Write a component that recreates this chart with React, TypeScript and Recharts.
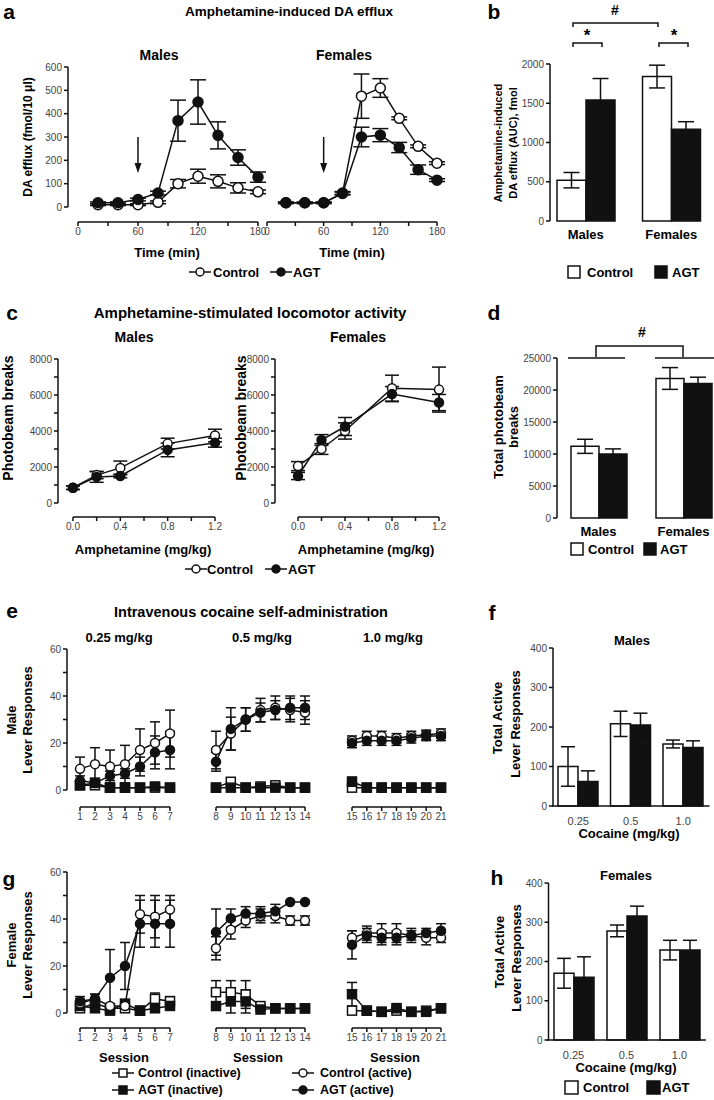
import React from "react";
import { Bar, BarChart, ErrorBar, Line, LineChart, ReferenceDot, ReferenceLine, XAxis, YAxis } from "recharts";

// ---------- data ----------
const daTime = [20, 40, 60, 80, 100, 120, 140, 160, 180];
const daMaleCtrl = [10, 10, 10, 20, 100, 132, 110, 82, 65];
const daMaleCtrlErr = [4, 4, 4, 6, 18, 30, 28, 22, 8];
const daMaleAgt = [18, 18, 32, 60, 370, 450, 307, 212, 128];
const daMaleAgtErr = [4, 4, 6, 8, 88, 95, 58, 33, 22];
const daFemCtrl = [18, 18, 18, 60, 475, 510, 380, 260, 188];
const daFemCtrlErr = [3, 3, 3, 6, 95, 40, 6, 6, 6];
const daFemAgt = [18, 18, 18, 58, 300, 308, 255, 160, 115];
const daFemAgtErr = [3, 3, 3, 6, 42, 28, 22, 20, 6];

const sexes = ["Males", "Females"];
const aucCtrl = [520, 1840];
const aucCtrlErr = [98, 145];
const aucAgt = [1540, 1170];
const aucAgtErr = [275, 95];

const ampDose = [0, 0.2, 0.4, 0.8, 1.2];
const locoMaleCtrl = [850, 1550, 1950, 3300, 3750];
const locoMaleCtrlErr = [100, 200, 380, 300, 350];
const locoMaleAgt = [850, 1450, 1500, 2950, 3350];
const locoMaleAgtErr = [100, 300, 100, 380, 250];
const locoFemCtrl = [2050, 3000, 4000, 6380, 6300];
const locoFemCtrlErr = [250, 300, 450, 720, 1250];
const locoFemAgt = [1500, 3500, 4250, 6050, 5580];
const locoFemAgtErr = [200, 300, 500, 420, 450];

const beamCtrl = [11200, 21800];
const beamCtrlErr = [1100, 1700];
const beamAgt = [10000, 21000];
const beamAgtErr = [800, 1000];

const sessions = [1, 2, 3, 4, 5, 6, 7, 8, 9, 10, 11, 12, 13, 14, 15, 16, 17, 18, 19, 20, 21];
const mCtrlAct = [9, 11, 10, 11, 17, 20, 24, 17, 24, 30, 34, 35, 34, 33, 21, 23, 23, 22, 23, 23.5, 24];
const mCtrlActErr = [5, 7, 7, 8, 9, 9, 10, 8, 7, 5, 5, 5, 5, 5, 2, 2, 2, 2, 2, 2, 2];
const mAgtAct = [4, 3, 6, 7, 10, 16, 17, 12, 26, 30, 33, 34, 35, 35, 20, 21, 21, 21, 22, 23, 23];
const mAgtActErr = [2, 2, 2, 2, 4, 7, 8, 4, 9, 5, 4, 4, 5, 5, 2, 2, 2, 2, 2, 2, 2];
const mCtrlInact = [2, 2, 1, 1, 1, 1, 1, 1, 3.5, 1, 1.5, 2, 1, 1, 1, 1, 1, 1, 1, 1, 1];
const mCtrlInactErr = [1, 1, 0, 0, 0, 0, 0, 0, 1.5, 0, 1, 1, 0, 0, 0, 0, 0, 0, 0, 0, 0];
const mAgtInact = [2, 3, 1, 1, 1, 1.5, 1, 1, 1, 1, 1, 1, 1, 1, 3.5, 1, 1, 1, 1, 1, 1];
const mAgtInactErr = [1, 1, 0, 0, 0, 0, 0, 0, 0, 0, 0, 0, 0, 0, 2, 0, 0, 0, 0, 0, 0];

const fCtrlAct = [4, 6, 3, 3, 42, 41, 44, 27, 35, 39, 41, 41, 39, 39, 32, 34, 34, 34, 33, 32, 32];
const fCtrlActErr = [2, 2, 1, 1, 8, 9, 6, 5, 4, 3, 3, 3, 2, 2, 3, 3, 4, 4, 3, 3, 2];
const fAgtAct = [5, 6, 15, 20, 38, 38, 38, 34, 40, 42, 42, 43, 47, 47, 29, 33, 32, 32, 33, 34, 35];
const fAgtActErr = [2, 2, 12, 10, 10, 10, 10, 10, 4, 3, 3, 3, 0, 0, 6, 3, 3, 3, 2, 2, 3];
const fCtrlInact = [2, 4, 2, 2, 1, 6, 5, 8, 8, 7, 2, 1, 1, 1, 1, 1, 0.5, 1, 0.5, 1, 2];
const fCtrlInactErr = [1, 1, 1, 1, 1, 2.5, 2, 5, 5, 6, 1, 0, 0, 0, 0, 0, 0, 0, 0, 0, 1];
const fAgtInact = [3, 2, 1, 4, 1, 2, 3, 2, 4, 4, 0.5, 1, 1, 1, 8, 1, 0.5, 2, 0.5, 0.5, 2];
const fAgtInactErr = [1, 1, 1, 1, 1, 1, 1, 1, 5, 5, 0, 0, 0, 0, 5, 0, 0, 2, 0, 0, 1.5];

const cocDose = ["0.25", "0.5", "1.0"];
const totMaleCtrl = [100, 208, 157];
const totMaleCtrlErr = [50, 32, 10];
const totMaleAgt = [62, 205, 148];
const totMaleAgtErr = [27, 30, 17];
const totFemCtrl = [170, 278, 229];
const totFemCtrlErr = [38, 15, 25];
const totFemAgt = [160, 316, 229];
const totFemAgtErr = [52, 25, 25];

// ---------- layout helpers ----------
const FONT = '"Liberation Sans", Arial, Helvetica, sans-serif';
const INK = "#111";
const GREY = "#444";
const PAD = { l: 70, r: 14, t: 14, b: 50 };
const YW = 50;
const XH = 30;

// detached axes: the axis lines are moved with css, the tick labels by the tick renderers
const SHIFTS: Record<string, [number, number]> = {
  ay: [-10, 0], ax: [0, 15],
  by: [7, 0],
  cmy: [-15, 0], cfy: [-23, 0], cx: [0, 14],
  dy: [1, 0],
  ey: [-13, 0], ex: [0, 17], gx: [0, 15],
  fy: [1, 0], hy: [1.5, 0],
};
const css = Object.entries(SHIFTS)
  .map(([k, [dx, dy]]) => `.s-${k}{transform:translate(${dx}px,${dy}px)}`)
  .join("\n");

function frame(x0: number, y0: number, x1: number, y1: number, showY = true) {
  return {
    style: { position: "absolute" as const, left: x0 - PAD.l, top: y0 - PAD.t },
    width: x1 - x0 + PAD.l + PAD.r,
    height: y1 - y0 + PAD.t + PAD.b,
    margin: { top: PAD.t, right: PAD.r, bottom: PAD.b - XH, left: PAD.l - (showY ? YW : 0) },
  };
}

const axisStroke = { stroke: INK, strokeWidth: 1.5 };
const every = (step: number) => (v: number) => (Math.abs(v / step - Math.round(v / step)) < 1e-6 ? String(v) : "");

const xTick = (fmt: ((v: any) => string) | undefined, dy: number, style: any) => (p: any) => (
  <text key={`xt-${p.index}`} x={p.x} y={p.y + dy} dy="0.71em" textAnchor="middle" {...style}>
    {fmt ? fmt(p.payload.value) : p.payload.value}
  </text>
);
const yTick = (fmt: ((v: any) => string) | undefined, dx: number) => (p: any) => (
  <text key={`yt-${p.index}`} x={p.x + dx} y={p.y} dy="0.35em" textAnchor="end" fill={GREY} fontSize={10}>
    {fmt ? fmt(p.payload.value) : p.payload.value}
  </text>
);
const smallGrey = { fill: GREY, fontSize: 10 };

type Kind = "open" | "fill" | "openSq" | "fillSq";
function dotFor(kind: Kind, r: number): any {
  if (kind === "open" || kind === "fill")
    return { r, fill: kind === "open" ? "#fff" : INK, stroke: INK, strokeWidth: 1.5 };
  const fill = kind === "openSq" ? "#fff" : INK;
  return (p: any) => (
    <rect key={`sq-${p.index}`} x={p.cx - r} y={p.cy - r} width={2 * r} height={2 * r} fill={fill} stroke={INK} strokeWidth={1.5} />
  );
}

type S = { key: string; kind: Kind };

function XYPanel(props: {
  box: [number, number, number, number];
  data: any[];
  xDomain: [number, number];
  xTicks: number[];
  xFmt?: (v: number) => string;
  yDomain: [number, number];
  yTicks: number[];
  yFmt?: (v: number) => string;
  showY: boolean;
  yCls?: string;
  xCls: string;
  series: S[];
  r: number;
  cap: number;
  arrow?: boolean;
}) {
  const [x0, y0, x1, y1] = props.box;
  const f = frame(x0, y0, x1, y1, props.showY);
  const xs = SHIFTS[props.xCls];
  const ys = props.yCls ? SHIFTS[props.yCls] : [0, 0];
  return (
    <div style={f.style}>
      <LineChart width={f.width} height={f.height} margin={f.margin} data={props.data}>
        <XAxis
          type="number"
          dataKey="x"
          domain={props.xDomain}
          ticks={props.xTicks}
          interval={0}
          height={XH}
          axisLine={axisStroke}
          tickLine={axisStroke}
          tickSize={4}
          tickMargin={2}
          tick={xTick(props.xFmt, xs[1], smallGrey)}
          className={`s-${props.xCls}`}
        />
        <YAxis
          hide={!props.showY}
          width={YW}
          domain={props.yDomain}
          ticks={props.yTicks}
          interval={0}
          axisLine={axisStroke}
          tickLine={axisStroke}
          tickSize={4}
          tickMargin={2}
          tick={yTick(props.yFmt, ys[0])}
          className={props.yCls ? `s-${props.yCls}` : undefined}
        />
        {props.arrow && (
          <ReferenceLine segment={[{ x: 60, y: 300 }, { x: 60, y: 170 }]} stroke={INK} strokeWidth={1.5} />
        )}
        {props.arrow && (
          <ReferenceDot
            x={60}
            y={146}
            r={0}
            shape={(p: any) => (
              <path d={`M${p.cx - 3.5},${p.cy - 10} L${p.cx + 3.5},${p.cy - 10} L${p.cx},${p.cy} Z`} fill={INK} />
            )}
          />
        )}
        {props.series.map((s) => (
          <Line
            key={s.key}
            dataKey={s.key}
            type="linear"
            stroke={INK}
            strokeWidth={1.5}
            dot={dotFor(s.kind, props.r)}
            activeDot={false}
            isAnimationActive={false}
          >
            <ErrorBar dataKey={`${s.key}E`} width={props.cap} stroke={INK} strokeWidth={1.5} direction="y" />
          </Line>
        ))}
      </LineChart>
    </div>
  );
}

function BarPanel(props: {
  box: [number, number, number, number];
  data: any[];
  yDomain: [number, number];
  yTicks: number[];
  yCls: string;
  barSize: number;
  cap: number;
  groupTick: any;
  xLine: boolean;
  tickMargin: number;
}) {
  const [x0, y0, x1, y1] = props.box;
  const f = frame(x0, y0, x1, y1, true);
  const ys = SHIFTS[props.yCls];
  return (
    <div style={f.style}>
      <BarChart width={f.width} height={f.height} margin={f.margin} data={props.data} barGap={0}>
        <XAxis
          dataKey="g"
          height={XH}
          axisLine={props.xLine ? axisStroke : false}
          tickLine={false}
          interval={0}
          tickMargin={props.tickMargin}
          tick={xTick(undefined, 0, props.groupTick)}
        />
        <YAxis
          width={YW}
          domain={props.yDomain}
          ticks={props.yTicks}
          interval={0}
          axisLine={axisStroke}
          tickLine={axisStroke}
          tickSize={4}
          tickMargin={2}
          tick={yTick(undefined, ys[0])}
          className={`s-${props.yCls}`}
        />
        <Bar dataKey="ctrl" fill="#fff" stroke={INK} strokeWidth={1.5} barSize={props.barSize} isAnimationActive={false}>
          <ErrorBar dataKey="ctrlE" width={props.cap} stroke={INK} strokeWidth={1.5} />
        </Bar>
        <Bar dataKey="agt" fill={INK} stroke={INK} strokeWidth={1.5} barSize={props.barSize} isAnimationActive={false}>
          <ErrorBar dataKey="agtE" width={props.cap} stroke={INK} strokeWidth={1.5} />
        </Bar>
      </BarChart>
    </div>
  );
}

function Txt({ x, y, text, size = 13, weight = 700, rot = false, start = false, color = "#000" }: any) {
  const tr = start ? "translate(0,-50%)" : "translate(-50%,-50%)";
  return (
    <div
      style={{
        position: "absolute",
        left: x,
        top: y,
        transform: tr + (rot ? " rotate(-90deg)" : ""),
        fontSize: size,
        fontWeight: weight,
        whiteSpace: "nowrap",
        lineHeight: 1,
        color,
      }}
    >
      {text}
    </div>
  );
}

function LineKey({ x, y, kind }: { x: number; y: number; kind: Kind }) {
  return (
    <svg style={{ position: "absolute", left: x - 11, top: y - 6 }} width={22} height={12}>
      <line x1={0} y1={6} x2={22} y2={6} stroke={INK} strokeWidth={1.5} />
      {kind === "open" || kind === "fill" ? (
        <circle cx={11} cy={6} r={4} fill={kind === "open" ? "#fff" : INK} stroke={INK} strokeWidth={1.5} />
      ) : (
        <rect x={7} y={2} width={8} height={8} fill={kind === "openSq" ? "#fff" : INK} stroke={INK} strokeWidth={1.5} />
      )}
    </svg>
  );
}

function BoxKey({ x, y, fill, size }: { x: number; y: number; fill: string; size: number }) {
  return (
    <svg style={{ position: "absolute", left: x - size / 2 - 1, top: y - size / 2 - 1 }} width={size + 2} height={size + 2}>
      <rect x={1} y={1} width={size} height={size} fill={fill} stroke={INK} strokeWidth={1.5} />
    </svg>
  );
}

// ---------- derived tables ----------
const daMale = daTime.map((x, i) => ({ x, ctrl: daMaleCtrl[i], ctrlE: daMaleCtrlErr[i], agt: daMaleAgt[i], agtE: daMaleAgtErr[i] }));
const daFem = daTime.map((x, i) => ({ x, ctrl: daFemCtrl[i], ctrlE: daFemCtrlErr[i], agt: daFemAgt[i], agtE: daFemAgtErr[i] }));
const aucRows = sexes.map((g, i) => ({ g, ctrl: aucCtrl[i], ctrlE: aucCtrlErr[i], agt: aucAgt[i], agtE: aucAgtErr[i] }));
const locoMale = ampDose.map((x, i) => ({ x, ctrl: locoMaleCtrl[i], ctrlE: locoMaleCtrlErr[i], agt: locoMaleAgt[i], agtE: locoMaleAgtErr[i] }));
const locoFem = ampDose.map((x, i) => ({ x, ctrl: locoFemCtrl[i], ctrlE: locoFemCtrlErr[i], agt: locoFemAgt[i], agtE: locoFemAgtErr[i] }));
const beamRows = sexes.map((g, i) => ({ g, ctrl: beamCtrl[i], ctrlE: beamCtrlErr[i], agt: beamAgt[i], agtE: beamAgtErr[i] }));
const maleSess = sessions.map((x, i) => ({
  x,
  cIn: mCtrlInact[i], cInE: mCtrlInactErr[i], aIn: mAgtInact[i], aInE: mAgtInactErr[i],
  cAct: mCtrlAct[i], cActE: mCtrlActErr[i], aAct: mAgtAct[i], aActE: mAgtActErr[i],
}));
const femSess = sessions.map((x, i) => ({
  x,
  cIn: fCtrlInact[i], cInE: fCtrlInactErr[i], aIn: fAgtInact[i], aInE: fAgtInactErr[i],
  cAct: fCtrlAct[i], cActE: fCtrlActErr[i], aAct: fAgtAct[i], aActE: fAgtActErr[i],
}));
const totMale = cocDose.map((g, i) => ({ g, ctrl: totMaleCtrl[i], ctrlE: totMaleCtrlErr[i], agt: totMaleAgt[i], agtE: totMaleAgtErr[i] }));
const totFem = cocDose.map((g, i) => ({ g, ctrl: totFemCtrl[i], ctrlE: totFemCtrlErr[i], agt: totFemAgt[i], agtE: totFemAgtErr[i] }));

const pairSeries: S[] = [
  { key: "ctrl", kind: "open" },
  { key: "agt", kind: "fill" },
];
const sessSeries: S[] = [
  { key: "cIn", kind: "openSq" },
  { key: "aIn", kind: "fillSq" },
  { key: "cAct", kind: "open" },
  { key: "aAct", kind: "fill" },
];
const blocks: { lo: number; hi: number; x0: number; x1: number }[] = [
  { lo: 1, hi: 7, x0: 80, x1: 170 },
  { lo: 8, hi: 14, x0: 216, x1: 305 },
  { lo: 15, hi: 21, x0: 352, x1: 441 },
];
const range = (a: number, b: number) => sessions.filter((s) => s >= a && s <= b);
const doseFmt = (v: number) => (Math.round(v * 10) % 4 === 0 ? v.toFixed(1) : "");

const boldTick = { fill: "#000", fontSize: 13, fontWeight: 700 };
const grayTick = { fill: GREY, fontSize: 11 };

export default function App() {
  return (
    <div
      style={{
        position: "absolute",
        left: 0,
        top: 0,
        width: 714,
        height: 1100,
        overflow: "hidden",
        background: "#fff",
        fontFamily: FONT,
        color: "#000",
      }}
    >
      <style>{css}</style>

      {/* ---- a ---- */}
      <Txt x={9} y={11} text="a" size={21} />
      <Txt x={289} y={12} text="Amphetamine-induced DA efflux" size={13.5} />
      <Txt x={159} y={55} text="Males" size={14} />
      <Txt x={344} y={55} text="Females" size={14} />
      <Txt x={28} y={137} text="DA efflux (fmol/10 μl)" size={12} rot />
      <XYPanel box={[78, 67, 258, 207]} data={daMale} xDomain={[0, 180]} xTicks={[0, 30, 60, 90, 120, 150, 180]}
        xFmt={every(60)} yDomain={[0, 600]} yTicks={[0, 100, 200, 300, 400, 500, 600]} showY yCls="ay" xCls="ax"
        series={pairSeries} r={5} cap={8} arrow />
      <XYPanel box={[267, 67, 437, 207]} data={daFem} xDomain={[0, 180]} xTicks={[0, 30, 60, 90, 120, 150, 180]}
        xFmt={every(60)} yDomain={[0, 600]} yTicks={[0, 100, 200, 300, 400, 500, 600]} showY={false} xCls="ax"
        series={pairSeries} r={5} cap={8} arrow />
      <Txt x={167} y={252} text="Time (min)" size={13} />
      <Txt x={352} y={252} text="Time (min)" size={13} />
      <LineKey x={200} y={272} kind="open" />
      <Txt x={213} y={272} text="Control" size={13} start />
      <LineKey x={281} y={272} kind="fill" />
      <Txt x={293} y={272} text="AGT" size={13} start />

      {/* ---- b ---- */}
      <Txt x={494} y={11} text="b" size={21} />
      <Txt x={615} y={10} text="#" size={14} />
      <Txt x={587} y={35} text="*" size={17} />
      <Txt x={674} y={35} text="*" size={17} />
      <svg style={{ position: "absolute", left: 0, top: 0 }} width={714} height={400}>
        <path d="M573,27 V23 H658 V27" fill="none" stroke={INK} strokeWidth={1.5} />
        <path d="M573,47 V43 H602 V47" fill="none" stroke={INK} strokeWidth={1.5} />
        <path d="M659,47 V43 H688 V47" fill="none" stroke={INK} strokeWidth={1.5} />
        <path d="M596,357 V346 H683 V357" fill="none" stroke={INK} strokeWidth={1.5} />
        <path d="M568,358 H625 M655,358 H714" fill="none" stroke={INK} strokeWidth={1.5} />
      </svg>
      <Txt x={498} y={143} text="Amphetamine-induced" size={11} rot />
      <Txt x={513} y={143} text="DA efflux (AUC), fmol" size={11} rot />
      <BarPanel box={[543, 64, 714, 221]} data={aucRows} yDomain={[0, 2000]} yTicks={[0, 500, 1000, 1500, 2000]}
        yCls="by" barSize={29} cap={8} groupTick={boldTick} xLine={false} tickMargin={3} />
      <BoxKey x={574} y={272} fill="#fff" size={12} />
      <Txt x={587} y={272} text="Control" size={13} start />
      <BoxKey x={661} y={272} fill={INK} size={12} />
      <Txt x={672} y={272} text="AGT" size={13} start />

      {/* ---- c ---- */}
      <Txt x={12} y={312} text="c" size={21} />
      <Txt x={250} y={312} text="Amphetamine-stimulated locomotor activity" size={15} />
      <Txt x={134} y={337} text="Males" size={14} />
      <Txt x={358} y={337} text="Females" size={14} />
      <Txt x={8} y={418} text="Photobeam breaks" size={14} rot />
      <Txt x={241} y={418} text="Photobeam breaks" size={14} rot />
      <XYPanel box={[73, 359, 215, 503]} data={locoMale} xDomain={[0, 1.2]} xTicks={[0, 0.2, 0.4, 0.6, 0.8, 1, 1.2]}
        xFmt={doseFmt} yDomain={[0, 8000]} yTicks={[0, 1000, 2000, 3000, 4000, 5000, 6000, 7000, 8000]}
        yFmt={every(2000)} showY yCls="cmy" xCls="cx" series={pairSeries} r={4.5} cap={7} />
      <XYPanel box={[298, 359, 439, 503]} data={locoFem} xDomain={[0, 1.2]} xTicks={[0, 0.2, 0.4, 0.6, 0.8, 1, 1.2]}
        xFmt={doseFmt} yDomain={[0, 8000]} yTicks={[0, 1000, 2000, 3000, 4000, 5000, 6000, 7000, 8000]}
        yFmt={every(2000)} showY yCls="cfy" xCls="cx" series={pairSeries} r={4.5} cap={7} />
      <Txt x={143} y={549} text="Amphetamine (mg/kg)" size={13} />
      <Txt x={366} y={549} text="Amphetamine (mg/kg)" size={13} />
      <LineKey x={196} y={569} kind="open" />
      <Txt x={207} y={569} text="Control" size={13} start />
      <LineKey x={276} y={569} kind="fill" />
      <Txt x={288} y={569} text="AGT" size={13} start />

      {/* ---- d ---- */}
      <Txt x={494} y={312} text="d" size={21} />
      <Txt x={642} y={332} text="#" size={14} />
      <Txt x={498} y={427} text="Total photobeam" size={13} rot />
      <Txt x={513} y={427} text="breaks" size={13} rot />
      <BarPanel box={[556, 358, 726, 518]} data={beamRows} yDomain={[0, 25000]}
        yTicks={[0, 5000, 10000, 15000, 20000, 25000]} yCls="dy" barSize={28} cap={8} groupTick={boldTick}
        xLine={false} tickMargin={3} />
      <BoxKey x={577} y={549} fill="#fff" size={12} />
      <Txt x={588} y={549} text="Control" size={13} start />
      <BoxKey x={650} y={549} fill={INK} size={12} />
      <Txt x={660} y={549} text="AGT" size={13} start />

      {/* ---- e ---- */}
      <Txt x={12} y={610} text="e" size={21} />
      <Txt x={251} y={612} text="Intravenous cocaine self-administration" size={14.5} />
      <Txt x={119} y={637} text="0.25 mg/kg" size={13} />
      <Txt x={262} y={637} text="0.5 mg/kg" size={13} />
      <Txt x={393} y={637} text="1.0 mg/kg" size={13} />
      <Txt x={11} y={720} text="Male" size={13} rot />
      <Txt x={27} y={720} text="Lever Responses" size={13} rot />
      {blocks.map((b, i) => (
        <XYPanel key={`e${i}`} box={[b.x0, 649, b.x1, 790]} data={maleSess.filter((d) => d.x >= b.lo && d.x <= b.hi)}
          xDomain={[b.lo, b.hi]} xTicks={range(b.lo, b.hi)} yDomain={[0, 60]} yTicks={[0, 10, 20, 30, 40, 50, 60]}
          yFmt={every(20)} showY={i === 0} yCls="ey" xCls="ex" series={sessSeries} r={4.5} cap={5} />
      ))}

      {/* ---- f ---- */}
      <Txt x={492} y={612} text="f" size={21} />
      <Txt x={632} y={640} text="Males" size={13} />
      <Txt x={497} y={718} text="Total Active" size={13} rot />
      <Txt x={515} y={724} text="Lever Responses" size={13} rot />
      <BarPanel box={[552, 648, 709.5, 806]} data={totMale} yDomain={[0, 400]} yTicks={[0, 100, 200, 300, 400]}
        yCls="fy" barSize={20} cap={7} groupTick={grayTick} xLine tickMargin={5} />
      <Txt x={629} y={833} text="Cocaine (mg/kg)" size={13} />

      {/* ---- g ---- */}
      <Txt x={9} y={878} text="g" size={21} />
      <Txt x={11} y={945} text="Female" size={13} rot />
      <Txt x={27} y={945} text="Lever Responses" size={13} rot />
      {blocks.map((b, i) => (
        <XYPanel key={`g${i}`} box={[b.x0, 872, b.x1, 1013]} data={femSess.filter((d) => d.x >= b.lo && d.x <= b.hi)}
          xDomain={[b.lo, b.hi]} xTicks={range(b.lo, b.hi)} yDomain={[0, 60]} yTicks={[0, 10, 20, 30, 40, 50, 60]}
          yFmt={every(20)} showY={i === 0} yCls="ey" xCls="gx" series={sessSeries} r={4.5} cap={5} />
      ))}
      <Txt x={124} y={1057} text="Session" size={13} />
      <Txt x={258} y={1057} text="Session" size={13} />
      <Txt x={395} y={1057} text="Session" size={13} />
      <LineKey x={123} y={1073} kind="openSq" />
      <Txt x={138} y={1073} text="Control (inactive)" size={12.5} start />
      <LineKey x={303} y={1073} kind="open" />
      <Txt x={320} y={1073} text="Control (active)" size={12.5} start />
      <LineKey x={123} y={1090} kind="fillSq" />
      <Txt x={138} y={1090} text="AGT (inactive)" size={12.5} start />
      <LineKey x={303} y={1090} kind="fill" />
      <Txt x={320} y={1090} text="AGT (active)" size={12.5} start />

      {/* ---- h ---- */}
      <Txt x={497} y={877} text="h" size={21} />
      <Txt x={626} y={875} text="Females" size={13} />
      <Txt x={499} y={952} text="Total Active" size={13} rot />
      <Txt x={516} y={958} text="Lever Responses" size={13} rot />
      <BarPanel box={[546.5, 883, 705.5, 1040]} data={totFem} yDomain={[0, 400]} yTicks={[0, 100, 200, 300, 400]}
        yCls="hy" barSize={20} cap={7} groupTick={grayTick} xLine tickMargin={5} />
      <Txt x={626} y={1067} text="Cocaine (mg/kg)" size={13} />
      <BoxKey x={571} y={1087} fill="#fff" size={13} />
      <Txt x={583} y={1087} text="Control" size={13} start />
      <BoxKey x={653} y={1087} fill={INK} size={13} />
      <Txt x={662} y={1087} text="AGT" size={13} start />
    </div>
  );
}
